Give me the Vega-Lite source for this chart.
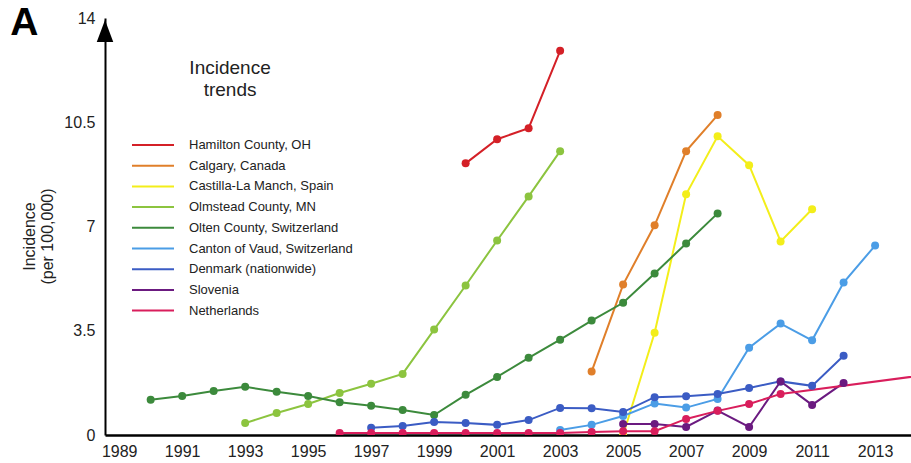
{
  "$schema": "https://vega.github.io/schema/vega-lite/v6.json",
  "width": 806,
  "height": 417,
  "autosize": {"type": "none"},
  "padding": {"left": 105, "top": 18, "right": 0, "bottom": 28},
  "background": "white",
  "config": {
    "view": {"stroke": null},
    "font": "Liberation Sans",
    "axis": {"grid": false, "ticks": false, "domainColor": "black", "labelColor": "#222", "labelFontSize": 16, "labelFont": "Liberation Sans"}
  },
  "datasets": {
    "incidence": [
      {"region": "Hamilton County, OH", "year": 2000, "value": 9.12},
      {"region": "Hamilton County, OH", "year": 2001, "value": 9.93},
      {"region": "Hamilton County, OH", "year": 2002, "value": 10.3},
      {"region": "Hamilton County, OH", "year": 2003, "value": 12.9},
      {"region": "Calgary, Canada", "year": 2004, "value": 2.13},
      {"region": "Calgary, Canada", "year": 2005, "value": 5.05},
      {"region": "Calgary, Canada", "year": 2006, "value": 7.04},
      {"region": "Calgary, Canada", "year": 2007, "value": 9.53},
      {"region": "Calgary, Canada", "year": 2008, "value": 10.74},
      {"region": "Castilla-La Manch, Spain", "year": 2005, "value": 0.0},
      {"region": "Castilla-La Manch, Spain", "year": 2006, "value": 3.43},
      {"region": "Castilla-La Manch, Spain", "year": 2007, "value": 8.08},
      {"region": "Castilla-La Manch, Spain", "year": 2008, "value": 10.03},
      {"region": "Castilla-La Manch, Spain", "year": 2009, "value": 9.06},
      {"region": "Castilla-La Manch, Spain", "year": 2010, "value": 6.5},
      {"region": "Castilla-La Manch, Spain", "year": 2011, "value": 7.58},
      {"region": "Olmstead County, MN", "year": 1993, "value": 0.4},
      {"region": "Olmstead County, MN", "year": 1994, "value": 0.74},
      {"region": "Olmstead County, MN", "year": 1995, "value": 1.04},
      {"region": "Olmstead County, MN", "year": 1996, "value": 1.41},
      {"region": "Olmstead County, MN", "year": 1997, "value": 1.72},
      {"region": "Olmstead County, MN", "year": 1998, "value": 2.05},
      {"region": "Olmstead County, MN", "year": 1999, "value": 3.54},
      {"region": "Olmstead County, MN", "year": 2000, "value": 5.02},
      {"region": "Olmstead County, MN", "year": 2001, "value": 6.53},
      {"region": "Olmstead County, MN", "year": 2002, "value": 8.01},
      {"region": "Olmstead County, MN", "year": 2003, "value": 9.53},
      {"region": "Olten County, Switzerland", "year": 1990, "value": 1.18},
      {"region": "Olten County, Switzerland", "year": 1991, "value": 1.31},
      {"region": "Olten County, Switzerland", "year": 1992, "value": 1.48},
      {"region": "Olten County, Switzerland", "year": 1993, "value": 1.62},
      {"region": "Olten County, Switzerland", "year": 1994, "value": 1.45},
      {"region": "Olten County, Switzerland", "year": 1995, "value": 1.31},
      {"region": "Olten County, Switzerland", "year": 1996, "value": 1.1},
      {"region": "Olten County, Switzerland", "year": 1997, "value": 0.98},
      {"region": "Olten County, Switzerland", "year": 1998, "value": 0.84},
      {"region": "Olten County, Switzerland", "year": 1999, "value": 0.67},
      {"region": "Olten County, Switzerland", "year": 2000, "value": 1.35},
      {"region": "Olten County, Switzerland", "year": 2001, "value": 1.95},
      {"region": "Olten County, Switzerland", "year": 2002, "value": 2.59},
      {"region": "Olten County, Switzerland", "year": 2003, "value": 3.2},
      {"region": "Olten County, Switzerland", "year": 2004, "value": 3.84},
      {"region": "Olten County, Switzerland", "year": 2005, "value": 4.44},
      {"region": "Olten County, Switzerland", "year": 2006, "value": 5.42},
      {"region": "Olten County, Switzerland", "year": 2007, "value": 6.43},
      {"region": "Olten County, Switzerland", "year": 2008, "value": 7.44},
      {"region": "Canton of Vaud, Switzerland", "year": 2003, "value": 0.17},
      {"region": "Canton of Vaud, Switzerland", "year": 2004, "value": 0.34},
      {"region": "Canton of Vaud, Switzerland", "year": 2005, "value": 0.64},
      {"region": "Canton of Vaud, Switzerland", "year": 2006, "value": 1.06},
      {"region": "Canton of Vaud, Switzerland", "year": 2007, "value": 0.92},
      {"region": "Canton of Vaud, Switzerland", "year": 2008, "value": 1.21},
      {"region": "Canton of Vaud, Switzerland", "year": 2009, "value": 2.93},
      {"region": "Canton of Vaud, Switzerland", "year": 2010, "value": 3.74},
      {"region": "Canton of Vaud, Switzerland", "year": 2011, "value": 3.18},
      {"region": "Canton of Vaud, Switzerland", "year": 2012, "value": 5.12},
      {"region": "Canton of Vaud, Switzerland", "year": 2013, "value": 6.36},
      {"region": "Denmark (nationwide)", "year": 1997, "value": 0.24},
      {"region": "Denmark (nationwide)", "year": 1998, "value": 0.3},
      {"region": "Denmark (nationwide)", "year": 1999, "value": 0.44},
      {"region": "Denmark (nationwide)", "year": 2000, "value": 0.4},
      {"region": "Denmark (nationwide)", "year": 2001, "value": 0.34},
      {"region": "Denmark (nationwide)", "year": 2002, "value": 0.5},
      {"region": "Denmark (nationwide)", "year": 2003, "value": 0.91},
      {"region": "Denmark (nationwide)", "year": 2004, "value": 0.9},
      {"region": "Denmark (nationwide)", "year": 2005, "value": 0.77},
      {"region": "Denmark (nationwide)", "year": 2006, "value": 1.27},
      {"region": "Denmark (nationwide)", "year": 2007, "value": 1.3},
      {"region": "Denmark (nationwide)", "year": 2008, "value": 1.38},
      {"region": "Denmark (nationwide)", "year": 2009, "value": 1.58},
      {"region": "Denmark (nationwide)", "year": 2010, "value": 1.8},
      {"region": "Denmark (nationwide)", "year": 2011, "value": 1.65},
      {"region": "Denmark (nationwide)", "year": 2012, "value": 2.66},
      {"region": "Slovenia", "year": 2005, "value": 0.37},
      {"region": "Slovenia", "year": 2006, "value": 0.37},
      {"region": "Slovenia", "year": 2007, "value": 0.27},
      {"region": "Slovenia", "year": 2008, "value": 0.82},
      {"region": "Slovenia", "year": 2009, "value": 0.27},
      {"region": "Slovenia", "year": 2010, "value": 1.8},
      {"region": "Slovenia", "year": 2011, "value": 1.01},
      {"region": "Slovenia", "year": 2012, "value": 1.75},
      {"region": "Netherlands", "year": 1996, "value": 0.07},
      {"region": "Netherlands", "year": 1997, "value": 0.07},
      {"region": "Netherlands", "year": 1998, "value": 0.07},
      {"region": "Netherlands", "year": 1999, "value": 0.07},
      {"region": "Netherlands", "year": 2000, "value": 0.07},
      {"region": "Netherlands", "year": 2001, "value": 0.07},
      {"region": "Netherlands", "year": 2002, "value": 0.07},
      {"region": "Netherlands", "year": 2003, "value": 0.07},
      {"region": "Netherlands", "year": 2004, "value": 0.1},
      {"region": "Netherlands", "year": 2005, "value": 0.13},
      {"region": "Netherlands", "year": 2006, "value": 0.13},
      {"region": "Netherlands", "year": 2007, "value": 0.54},
      {"region": "Netherlands", "year": 2008, "value": 0.81},
      {"region": "Netherlands", "year": 2009, "value": 1.04},
      {"region": "Netherlands", "year": 2010, "value": 1.38},
      {"region": "Netherlands", "year": 2015, "value": 2.07}
    ]
  },
  "layer": [
    {
      "data": {"name": "incidence"},
      "mark": {"type": "line", "strokeWidth": 2, "clip": true},
      "encoding": {
        "x": {"field": "year", "type": "quantitative", "scale": {"domain": [1988.55, 2014.14], "nice": false, "zero": false},
          "axis": {"values": [1989, 1991, 1993, 1995, 1997, 1999, 2001, 2003, 2005, 2007, 2009, 2011, 2013], "format": "d", "title": null, "domainWidth": 2.5, "labelPadding": 8, "labelFlush": false}},
        "y": {"field": "value", "type": "quantitative", "scale": {"domain": [0, 14], "nice": false},
          "axis": {"values": [0, 3.5, 7, 10.5, 14], "format": ".1~f", "title": ["Incidence", "(per 100,000)"], "titleFontSize": 16, "titleFontWeight": "normal", "titleColor": "#222", "titleFont": "Liberation Sans", "domainWidth": 2, "labelPadding": 10, "titleX": -68, "titleY": 218, "titleAlign": "center", "titleAngle": -90, "titleBaseline": "bottom", "titleLineHeight": 18}},
        "color": {"field": "region", "type": "nominal", "sort": null,
          "scale": {"domain": ["Hamilton County, OH", "Calgary, Canada", "Castilla-La Manch, Spain", "Olmstead County, MN", "Olten County, Switzerland", "Canton of Vaud, Switzerland", "Denmark (nationwide)", "Slovenia", "Netherlands"],
            "range": ["#d42027", "#e07f2a", "#f3ee1a", "#8cc43f", "#3c8a3c", "#4b9de6", "#3b5cc4", "#6b1a80", "#d91e5c"]},
          "legend": {"orient": "none", "legendX": 37, "legendY": 116, "title": null, "symbolType": "M-2.1,0L2.1,0", "symbolSize": 400, "symbolStrokeWidth": 2, "labelFontSize": 13, "labelFont": "Liberation Sans", "labelColor": "#222", "labelLimit": 400, "rowPadding": 2.7, "labelOffset": 25, "padding": 0}}
      }
    },
    {
      "data": {"name": "incidence"},
      "mark": {"type": "point", "filled": true, "size": 64, "opacity": 1, "clip": true},
      "encoding": {
        "x": {"field": "year", "type": "quantitative"},
        "y": {"field": "value", "type": "quantitative"},
        "color": {"field": "region", "type": "nominal", "sort": null, "legend": null}
      }
    },
    {
      "data": {"values": [{"label": "arrow"}]},
      "mark": {"type": "point", "shape": "M0,-1L0.75,1L-0.75,1Z", "filled": true, "color": "black", "size": 484, "opacity": 1},
      "encoding": {"x": {"datum": 1988.55, "type": "quantitative"}, "y": {"datum": 13.56, "type": "quantitative"}}
    },
    {
      "data": {"values": [{"label": "Incidence trends"}]},
      "mark": {"type": "text", "text": ["Incidence", "trends"], "fontSize": 19, "font": "Liberation Sans", "color": "#222", "align": "center", "baseline": "middle", "lineHeight": 22},
      "encoding": {"x": {"datum": 1992.52, "type": "quantitative"}, "y": {"datum": 12.32, "type": "quantitative"}}
    },
    {
      "data": {"values": [{"label": "A"}]},
      "mark": {"type": "text", "text": "A", "fontSize": 39, "fontWeight": "bold", "font": "Liberation Sans", "color": "black", "align": "left", "baseline": "alphabetic"},
      "encoding": {"x": {"datum": 1985.54, "type": "quantitative"}, "y": {"datum": 13.43, "type": "quantitative"}}
    }
  ]
}
